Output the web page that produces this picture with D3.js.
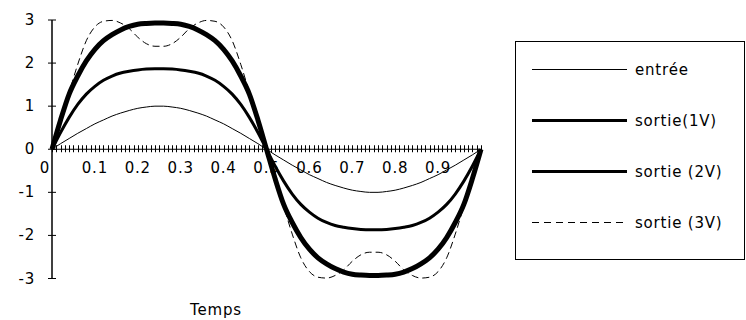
<!DOCTYPE html>
<html>
<head>
<meta charset="utf-8">
<script src="https://cdn.jsdelivr.net/npm/d3@7"></script>
<style>
    body { margin: 0; background: #fff; }
    text { font-family: "DejaVu Sans", sans-serif; font-size: 15px; fill: #000; letter-spacing: 0.8px; }
</style>
</head>
<body>
<svg id="chart"></svg>
<script>
// time samples (s), step 0.02
const temps = [0, 0.02, 0.04, 0.06, 0.08, 0.1, 0.12, 0.14, 0.16, 0.18, 0.2, 0.22, 0.24,
               0.26, 0.28, 0.3, 0.32, 0.34, 0.36, 0.38, 0.4, 0.42, 0.44, 0.46, 0.48, 0.5,
               0.52, 0.54, 0.56, 0.58, 0.6, 0.62, 0.64, 0.66, 0.68, 0.7, 0.72, 0.74,
               0.76, 0.78, 0.8, 0.82, 0.84, 0.86, 0.88, 0.9, 0.92, 0.94, 0.96, 0.98, 1];

const entree = [0, 0.13, 0.25, 0.37, 0.48, 0.59, 0.68, 0.77, 0.84, 0.90, 0.95, 0.98, 1.00,
                1.00, 0.98, 0.95, 0.90, 0.84, 0.77, 0.68, 0.59, 0.48, 0.37, 0.25, 0.13, 0,
                -0.13, -0.25, -0.37, -0.48, -0.59, -0.68, -0.77, -0.84, -0.90, -0.95, -0.98, -1.00,
                -1.00, -0.98, -0.95, -0.90, -0.84, -0.77, -0.68, -0.59, -0.48, -0.37, -0.25, -0.13, 0];

const sortie1 = [0, 0.39, 0.74, 1.04, 1.28, 1.46, 1.60, 1.70, 1.77, 1.81, 1.84, 1.86, 1.87,
                 1.87, 1.86, 1.84, 1.81, 1.77, 1.70, 1.60, 1.46, 1.28, 1.04, 0.74, 0.39, 0,
                 -0.39, -0.74, -1.04, -1.28, -1.46, -1.60, -1.70, -1.77, -1.81, -1.84, -1.86, -1.87,
                 -1.87, -1.86, -1.84, -1.81, -1.77, -1.70, -1.60, -1.46, -1.28, -1.04, -0.74, -0.39, 0];

const sortie2 = [0, 0.68, 1.28, 1.70, 2.05, 2.32, 2.52, 2.66, 2.77, 2.85, 2.90, 2.92, 2.93,
                 2.93, 2.92, 2.90, 2.85, 2.77, 2.66, 2.52, 2.32, 2.05, 1.70, 1.28, 0.68, 0,
                 -0.68, -1.28, -1.70, -2.05, -2.32, -2.52, -2.66, -2.77, -2.85, -2.90, -2.92, -2.93,
                 -2.93, -2.92, -2.90, -2.85, -2.77, -2.66, -2.52, -2.32, -2.05, -1.70, -1.28, -0.68, 0];

const sortie3 = [0, 0.67, 1.32, 1.97, 2.52, 2.84, 2.97, 2.99, 2.93, 2.80, 2.60, 2.45, 2.39,
                 2.39, 2.45, 2.60, 2.80, 2.93, 2.99, 2.97, 2.84, 2.52, 1.97, 1.32, 0.67, 0,
                 -0.67, -1.32, -1.97, -2.52, -2.84, -2.97, -2.99, -2.93, -2.80, -2.60, -2.45, -2.39,
                 -2.39, -2.45, -2.60, -2.80, -2.93, -2.99, -2.97, -2.84, -2.52, -1.97, -1.32, -0.67, 0];

const xTickLabels = ['0', '0.1', '0.2', '0.3', '0.4', '0.5', '0.6', '0.7', '0.8', '0.9'];
const yTickValues = [-3, -2, -1, 0, 1, 2, 3];
const seriesNames = ['entrée', 'sortie(1V)', 'sortie (2V)', 'sortie (3V)'];

var width = 746,
    height = 320;

var x = d3.scaleLinear().domain([0, 1]).range([52, 481]),
    y = d3.scaleLinear().domain([-3, 3]).range([278.5, 20]);

var svg = d3.select('#chart')
            .attr('width', width)
            .attr('height', height);

// x axis minor ticks, one per category (0.01)
var catTicks = d3.range(0, 101).map(i => i / 100);

svg.append('line')
    .attr('x1', x(0)).attr('x2', x(1))
    .attr('y1', y(0)).attr('y2', y(0))
    .attr('stroke', '#000');

svg.selectAll('.xtick')
    .data(catTicks)
    .enter().append('line')
    .attr('class', 'xtick')
    .attr('x1', d => Math.round(x(d)) + 0.5).attr('x2', d => Math.round(x(d)) + 0.5)
    .attr('y1', y(0) - 4).attr('y2', y(0) + 3)
    .attr('stroke', '#000');

// y axis
svg.append('line')
    .attr('x1', x(0)).attr('x2', x(0))
    .attr('y1', y(3)).attr('y2', y(-3))
    .attr('stroke', '#000')
    .attr('stroke-width', 1.5);

svg.selectAll('.ytick')
    .data(yTickValues)
    .enter().append('line')
    .attr('class', 'ytick')
    .attr('x1', x(0) - 4).attr('x2', x(0) + 4)
    .attr('y1', d => y(d)).attr('y2', d => y(d))
    .attr('stroke', '#000');

svg.selectAll('.ylabel')
    .data(yTickValues)
    .enter().append('text')
    .attr('class', 'ylabel')
    .attr('x', 35)
    .attr('y', d => y(d) + 5)
    .attr('text-anchor', 'end')
    .text(d => d);

svg.selectAll('.xlabel')
    .data(xTickLabels)
    .enter().append('text')
    .attr('class', 'xlabel')
    .attr('x', (d, i) => i === 0 ? x(0) - 2 : x(+d))
    .attr('y', y(0) + 24)
    .attr('text-anchor', (d, i) => i === 0 ? 'end' : 'middle')
    .text(d => d);

svg.append('text')
    .attr('x', 216)
    .attr('y', 315)
    .attr('text-anchor', 'middle')
    .text('Temps');

// curves
var line = d3.line()
            .x((d, i) => x(temps[i]))
            .y(d => y(d))
            .curve(d3.curveMonotoneX);

var series = [
    { name: seriesNames[0], values: entree,  width: 1, dash: null },
    { name: seriesNames[3], values: sortie3, width: 1, dash: '7,4' },
    { name: seriesNames[1], values: sortie1, width: 3, dash: null },
    { name: seriesNames[2], values: sortie2, width: 5, dash: null }
];

series.forEach(function (s) {
    svg.append('path')
        .attr('d', line(s.values))
        .attr('fill', 'none')
        .attr('stroke', '#000')
        .attr('stroke-width', s.width)
        .attr('stroke-dasharray', s.dash);
});

// legend
var legend = svg.append('g');

legend.append('rect')
    .attr('x', 515.5).attr('y', 41.5)
    .attr('width', 229).attr('height', 218)
    .attr('fill', 'none')
    .attr('stroke', '#000');

var legendItems = [
    { name: seriesNames[0], width: 1, dash: null },
    { name: seriesNames[1], width: 3, dash: null },
    { name: seriesNames[2], width: 3, dash: null },
    { name: seriesNames[3], width: 1, dash: '7,5' }
];

legendItems.forEach(function (d, i) {
    var ly = 69.5 + i * 51;
    legend.append('line')
        .attr('x1', 532).attr('x2', 627)
        .attr('y1', ly).attr('y2', ly)
        .attr('stroke', '#000')
        .attr('stroke-width', d.width)
        .attr('stroke-dasharray', d.dash);
    legend.append('text')
        .attr('x', 635)
        .attr('y', ly + 5)
        .text(d.name);
});
</script>
</body>
</html>
